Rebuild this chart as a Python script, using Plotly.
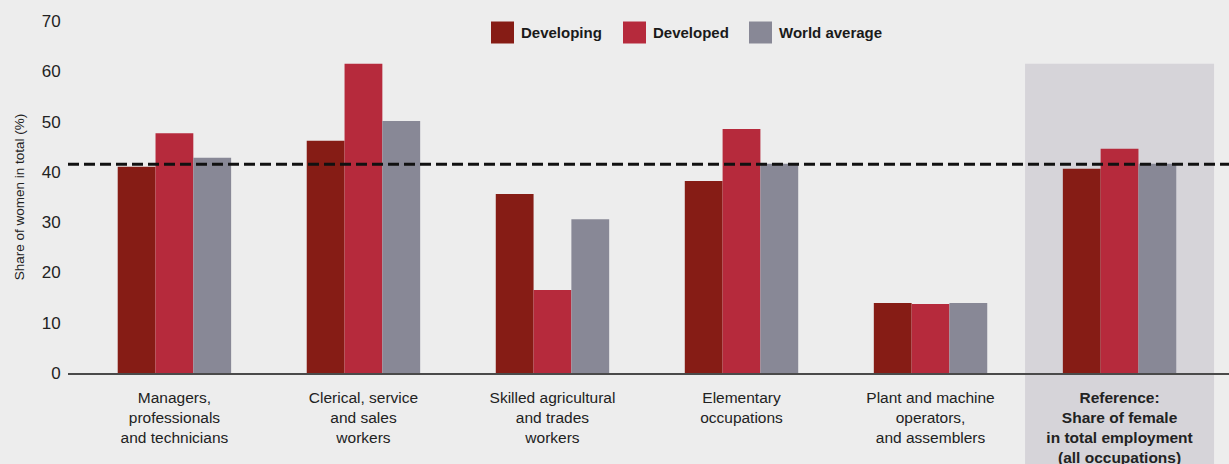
import plotly.graph_objects as go

categories = [
    "Managers,<br>professionals<br>and technicians",
    "Clerical, service<br>and sales<br>workers",
    "Skilled agricultural<br>and trades<br>workers",
    "Elementary<br>occupations",
    "Plant and machine<br>operators,<br>and assemblers",
    "<b>Reference:<br>Share of female<br>in total employment<br>(all occupations)</b>",
]
series_names = ["Developing", "Developed", "World average"]
developing = [41.0, 46.2, 35.6, 38.2, 13.9, 40.6]
developed = [47.7, 61.5, 16.5, 48.5, 13.7, 44.6]
world_avg = [42.8, 50.1, 30.6, 41.6, 13.9, 41.6]
reference_line = 41.5
y_ticks = [0, 10, 20, 30, 40, 50, 60, 70]

colors = ["#861c15", "#b62a3c", "#888896"]
values = [developing, developed, world_avg]

W, H = 1229, 464
ML, MR, MT, MB = 68, 0, 21, 91
pw, ph = W - ML - MR, H - MT - MB
YMAX = 70

x_idx = list(range(len(categories)))
x0 = -0.563
x1 = 5.579

fig = go.Figure()
for name, vals, c in zip(series_names, values, colors):
    fig.add_trace(go.Bar(x=x_idx, y=vals, name=name, marker=dict(color=c, line=dict(width=0)),
                         showlegend=False, hoverinfo="skip"))

shapes = []
# shaded reference column (behind everything)
shapes.append(dict(type="rect", xref="x", yref="paper",
                   x0=len(categories) - 1.5, x1=len(categories) - 0.5,
                   y0=-MB / ph, y1=max(developed) / YMAX,
                   fillcolor="#d6d4d9", line=dict(width=0), layer="below"))
# dashed reference line
shapes.append(dict(type="line", xref="paper", yref="y", x0=0, x1=1,
                   y0=reference_line, y1=reference_line,
                   line=dict(color="#111111", width=3, dash="11px,5px"), layer="above"))

# custom legend
annotations = []
def px_to_paper_x(px):
    return (px - ML) / pw
def px_to_paper_y(py):
    return (H - MB - py) / ph

legend_boxes = [491, 623, 749]
for bx, name, c in zip(legend_boxes, series_names, colors):
    shapes.append(dict(type="rect", xref="paper", yref="paper",
                       x0=px_to_paper_x(bx), x1=px_to_paper_x(bx + 23),
                       y0=px_to_paper_y(43.5), y1=px_to_paper_y(21.5),
                       fillcolor=c, line=dict(width=0), layer="above"))
    annotations.append(dict(xref="paper", yref="paper", x=px_to_paper_x(bx + 28),
                            y=px_to_paper_y(32.5), text="<b>" + name + "</b>",
                            showarrow=False, xanchor="left", yanchor="middle",
                            font=dict(family="Liberation Sans, Arial", size=15, color="#1a1a1a")))

fig.update_layout(
    width=W, height=H,
    margin=dict(l=ML, r=MR, t=MT, b=MB),
    paper_bgcolor="#ededed",
    plot_bgcolor="rgba(0,0,0,0)",
    barmode="group",
    bargap=0.4,
    bargroupgap=0,
    shapes=shapes,
    annotations=annotations,
    font=dict(family="Liberation Sans, Arial", color="#222222"),
    xaxis=dict(
        range=[x0, x1],
        tickmode="array", tickvals=x_idx, ticktext=categories,
        tickfont=dict(size=15.5, color="#222222"),
        showgrid=False, zeroline=False,
        showline=True, linecolor="#4a4a4a", linewidth=2,
        ticks="outside", ticklen=9, tickcolor="rgba(0,0,0,0)", fixedrange=True,
        automargin=False,
    ),
    yaxis=dict(
        range=[0, YMAX],
        tickmode="array", tickvals=y_ticks,
        tickfont=dict(size=17, color="#222222"),
        showgrid=False, zeroline=False, showline=False,
        ticks="outside", ticklen=3, tickcolor="rgba(0,0,0,0)",
        title=dict(text="Share of women in total (%)",
                   font=dict(size=13.5, family="Liberation Sans, Arial", color="#222222"),
                   standoff=13),
        automargin=False, fixedrange=True,
    ),
)

fig.write_html(
    "out.html",
    config={"displayModeBar": False},
    post_script="document.body.style.margin='0';document.body.style.background='#ededed';document.documentElement.style.background='#ededed';",
)
